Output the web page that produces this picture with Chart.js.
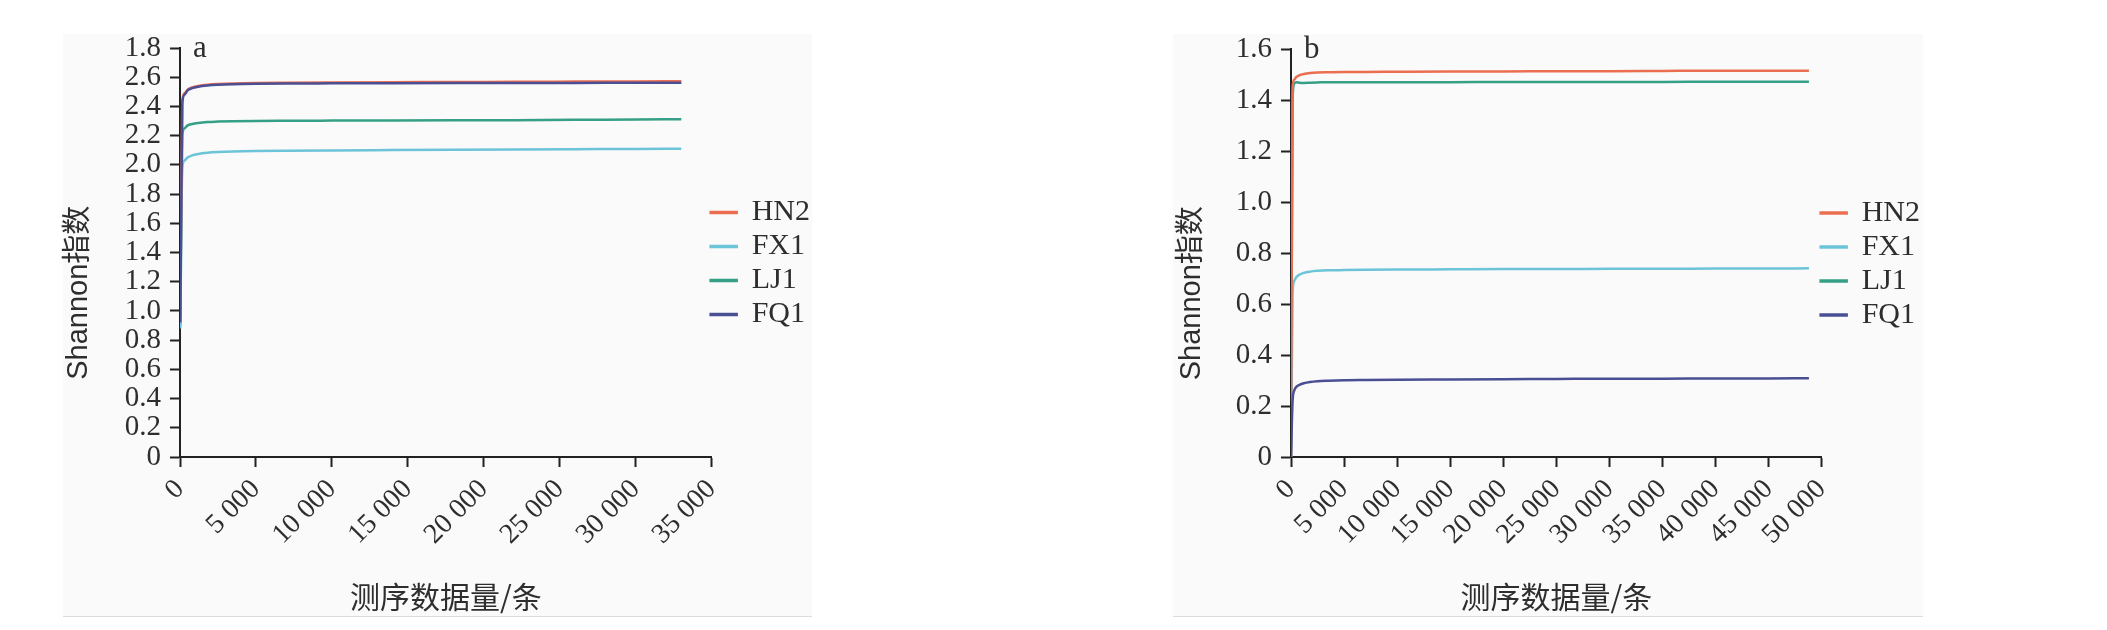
<!DOCTYPE html>
<html>
<head>
<meta charset="utf-8">
<script src="https://cdn.jsdelivr.net/npm/chart.js@4"></script>
<style>
  body { margin: 0; background: #fff; width: 2107px; height: 630px; position: relative; overflow: hidden; }
  .panel { position: absolute; top: 34px; height: 582px; background: #fafafa; border-bottom: 1px solid #dcdcdc; }
  canvas { position: absolute; top: 0; }
</style>
</head>
<body>
<div class="panel" style="left:63px;width:749px"></div>
<div class="panel" style="left:1173px;width:750px"></div>
<canvas id="chartA" width="840" height="630" style="left:0px"></canvas>
<canvas id="chartB" width="840" height="630" style="left:1150px"></canvas>
<script>
const seriesNames = ['HN2', 'FX1', 'LJ1', 'FQ1'];
const seriesColors = ['#ec6e50', '#6cc4d8', '#35a085', '#4a4f93'];

// panel a
const readsA = [20, 150, 300, 500, 800, 1200, 1800, 2500, 3500, 5000, 7000, 10000, 14000, 18000, 22000, 26000, 30000, 33000];
const hn2A = [0.95, 2.44, 2.49, 2.515, 2.53, 2.54, 2.548, 2.553, 2.557, 2.56, 2.562, 2.564, 2.566, 2.567, 2.569, 2.57, 2.571, 2.572];
const fx1A = [0.88, 1.98, 2.03, 2.05, 2.065, 2.075, 2.083, 2.088, 2.092, 2.095, 2.097, 2.099, 2.101, 2.103, 2.105, 2.107, 2.109, 2.11];
const lj1A = [0.9, 2.2, 2.25, 2.27, 2.28, 2.287, 2.293, 2.296, 2.299, 2.301, 2.302, 2.303, 2.304, 2.305, 2.306, 2.308, 2.311, 2.312];
const fq1A = [0.92, 2.42, 2.48, 2.51, 2.525, 2.535, 2.543, 2.548, 2.552, 2.555, 2.557, 2.558, 2.559, 2.56, 2.561, 2.561, 2.562, 2.562];
const xTicksA = ['0', '5 000', '10 000', '15 000', '20 000', '25 000', '30 000', '35 000'];
const yTicksA = ['0', '0.2', '0.4', '0.6', '0.8', '1.0', '1.2', '1.4', '1.6', '1.8', '2.0', '2.2', '2.4', '2.6', '1.8'];

// panel b
const readsB = [0, 150, 300, 500, 800, 1200, 1800, 2500, 3500, 5000, 7000, 10000, 15000, 20000, 25000, 30000, 35000, 40000, 45000, 48800];
const hn2B = [0, 1.45, 1.48, 1.49, 1.497, 1.502, 1.506, 1.508, 1.509, 1.51, 1.51, 1.511, 1.512, 1.512, 1.513, 1.513, 1.514, 1.515, 1.515, 1.515];
const fx1B = [0, 0.64, 0.69, 0.705, 0.715, 0.722, 0.727, 0.73, 0.732, 0.733, 0.734, 0.735, 0.736, 0.737, 0.737, 0.738, 0.738, 0.739, 0.739, 0.74];
const lj1B = [0, 1.4, 1.465, 1.47, 1.468, 1.467, 1.468, 1.469, 1.47, 1.47, 1.47, 1.47, 1.47, 1.471, 1.471, 1.471, 1.471, 1.472, 1.472, 1.472];
const fq1B = [0, 0.22, 0.26, 0.275, 0.283, 0.289, 0.294, 0.297, 0.299, 0.301, 0.302, 0.303, 0.304, 0.305, 0.306, 0.307, 0.307, 0.308, 0.308, 0.309];
const xTicksB = ['0', '5 000', '10 000', '15 000', '20 000', '25 000', '30 000', '35 000', '40 000', '45 000', '50 000'];
const yTicksB = ['0', '0.2', '0.4', '0.6', '0.8', '1.0', '1.2', '1.4', '1.6'];

const textColor = '#2e2e2e';
const axisColor = '#222';
const serif = '"Liberation Serif", "Times New Roman", serif';
// the y title in the original sits lower than the axis centre; trailing spaces push it down
const yTitle = 'Shannon指数' + ' '.repeat(10);

// small panel letter (a / b) in the top-left corner of the plot
const tagPlugin = {
  id: 'tag',
  afterDraw(chart, args, opts) {
    const ctx = chart.ctx;
    ctx.save();
    ctx.font = '31px ' + serif;
    ctx.fillStyle = textColor;
    ctx.textBaseline = 'alphabetic';
    ctx.fillText(opts.text, chart.chartArea.left + 13, chart.chartArea.top + 9);
    ctx.restore();
  }
};

// move the legend box a bit after layout (it sits lower and closer to the axis end)
const legendNudge = {
  id: 'legendNudge',
  afterLayout(chart, args, opts) {
    const lg = chart.legend;
    lg.left += opts.dx; lg.right += opts.dx;
    lg.top += opts.dy; lg.bottom += opts.dy;
  }
};

function makeChart(id, reads, series, xMax, xLabels, yMax, yLabels, tag, pad, yWidth) {
  const datasets = series.map((vals, i) => ({
    label: seriesNames[i],
    data: reads.map((r, j) => ({ x: r, y: vals[j] })),
    borderColor: seriesColors[i],
    backgroundColor: seriesColors[i],
    borderWidth: 2.5,
    pointRadius: 0,
    order: i === 3 ? 0 : 1,
    cubicInterpolationMode: 'monotone'
  }));

  return new Chart(document.getElementById(id), {
    type: 'line',
    data: { datasets },
    plugins: [tagPlugin, legendNudge],
    options: {
      responsive: false,
      animation: false,
      layout: { padding: pad },
      plugins: {
        tooltip: { enabled: false },
        tag: { text: tag },
        legendNudge: { dx: -5, dy: 11 },
        legend: {
          position: 'right',
          fullSize: false,
          labels: {
            boxWidth: 26,
            boxHeight: 1,
            padding: 4,
            color: textColor,
            font: { family: serif, size: 30 },
            sort: (a, b) => a.datasetIndex - b.datasetIndex
          }
        }
      },
      scales: {
        x: {
          type: 'linear',
          min: 0,
          max: xMax,
          afterFit: s => { s.height = 163; },
          border: { color: axisColor, width: 2 },
          grid: { drawOnChartArea: false, drawTicks: true, tickLength: 10, color: axisColor, tickWidth: 2 },
          ticks: {
            stepSize: 5000,
            autoSkip: false,
            minRotation: 45,
            maxRotation: 45,
            padding: 6,
            color: textColor,
            font: { family: serif, size: 28 },
            callback: (v, i) => xLabels[i]
          },
          title: {
            display: true,
            text: '测序数据量/条',
            color: textColor,
            padding: { top: 0, bottom: 5 },
            font: { family: '"Noto Sans CJK SC", sans-serif', size: 30 }
          }
        },
        y: {
          min: 0,
          max: yMax,
          afterFit: s => { s.width = yWidth; },
          border: { color: axisColor, width: 2 },
          grid: { drawOnChartArea: false, drawTicks: true, tickLength: 10, color: axisColor, tickWidth: 2 },
          ticks: {
            stepSize: 0.2,
            maxTicksLimit: 30,
            autoSkip: false,
            padding: 9,
            color: textColor,
            font: { family: serif, size: 29 },
            callback: (v, i) => yLabels[i]
          },
          title: {
            display: true,
            text: yTitle,
            color: textColor,
            padding: { top: 2, bottom: 0 },
            font: { family: '"Liberation Sans", "Noto Sans CJK SC", sans-serif', size: 29 }
          }
        }
      }
    }
  });
}

makeChart('chartA', readsA, [hn2A, fx1A, lj1A, fq1A], 35000, xTicksA, 2.8, yTicksA, 'a',
  { left: 60, top: 48, bottom: 10, right: 15 }, 120);
makeChart('chartB', readsB, [hn2B, fx1B, lj1B, fq1B], 50000, xTicksB, 1.6, yTicksB, 'b',
  { left: 23, top: 49, bottom: 10, right: 55 }, 118);
</script>
</body>
</html>
